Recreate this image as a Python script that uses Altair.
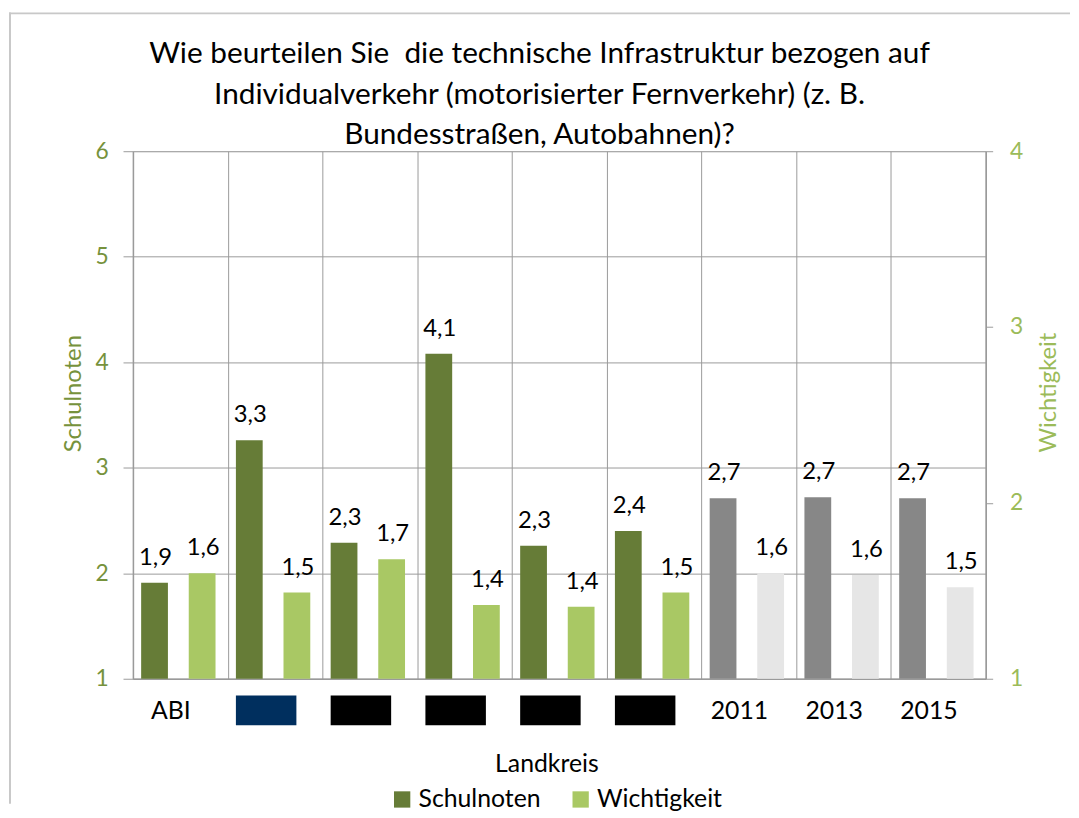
import json
import altair as alt
import pandas as pd

# ---------------- data ----------------
kategorien = ["ABI", "LK1", "LK2", "LK3", "LK4", "LK5", "2011", "2013", "2015"]
geschwaerzt = ["LK1", "LK2", "LK3", "LK4", "LK5"]   # redacted district names
jahre = ["2011", "2013", "2015"]
schulnoten = [1.91, 3.26, 2.29, 4.08, 2.26, 2.40, 2.71, 2.72, 2.71]
wichtigkeit = [1.60, 1.49, 1.68, 1.42, 1.41, 1.49, 1.60, 1.59, 1.52]
reihen = ["Schulnoten", "Wichtigkeit"]
farb_schluessel = ["Schulnoten", "Wichtigkeit", "Schulnoten (Vorjahre)", "Wichtigkeit (Vorjahre)"]
schulnoten_ticks = [1, 2, 3, 4, 5, 6]
wichtigkeit_ticks = [1, 2, 3, 4]
titel = [
    "Wie beurteilen Sie \u00a0die technische Infrastruktur bezogen auf",
    "Individualverkehr (motorisierter Fernverkehr) (z. B.",
    "Bundesstraßen, Autobahnen)?",
]

rows = []
for k, s, w in zip(kategorien, schulnoten, wichtigkeit):
    suffix = " (Vorjahre)" if k in jahre else ""
    rows.append({"Kategorie": k, "Reihe": "Schulnoten", "Wert": s, "Farbe": "Schulnoten" + suffix})
    rows.append({"Kategorie": k, "Reihe": "Wichtigkeit", "Wert": w, "Farbe": "Wichtigkeit" + suffix})
df = pd.DataFrame(rows)

# ---------------- styles ----------------
FONT = "Lato"
DARK = "#667C37"
LIGHT = "#A9C864"
GREY = "#878787"
LGREY = "#E6E6E6"
AXIS_GREY = "#9A9A9A"
LEFT_COL = "#76923C"
RIGHT_COL = "#9BBB59"

hide_expr = "indexof(%s, datum.label) >= 0 ? '' : datum.label" % json.dumps(geschwaerzt).replace('"', "'")

x_enc = alt.X(
    "Kategorie:N",
    sort=kategorien,
    scale=alt.Scale(paddingInner=0, paddingOuter=0),
    axis=alt.Axis(
        title="Landkreis",
        labelExpr=hide_expr,
        tickBand="extent",
        grid=True,
        gridColor=AXIS_GREY,
        ticks=False,
        domainColor=AXIS_GREY,
        domainWidth=1.5,
        labelAngle=0,
        labelFont=FONT,
        labelFontSize=25,
        labelColor="black",
        labelOffset=-10,
        labelPadding=20,
        titleFont=FONT,
        titleFontSize=25,
        titleFontWeight="normal",
        titleColor="black",
        titleX=417,
        titleY=94,
        titleAlign="center",
        titleBaseline="alphabetic",
    ),
)

color_enc = alt.Color(
    "Farbe:N",
    scale=alt.Scale(domain=farb_schluessel, range=[DARK, LIGHT, GREY, LGREY]),
    legend=alt.Legend(
        values=reihen,
        title=None,
        orient="none",
        legendX=259,
        legendY=641,
        direction="horizontal",
        symbolType="square",
        symbolSize=270,
        symbolStrokeWidth=0,
        labelFont=FONT,
        labelFontSize=25,
        labelColor="black",
        labelOffset=4,
        columnPadding=27,
    ),
)

y_left = alt.Y(
    "Wert:Q",
    scale=alt.Scale(domain=[1, 6], nice=False, zero=False),
    axis=alt.Axis(
        orient="left",
        values=schulnoten_ticks,
        title="Schulnoten",
        grid=True,
        gridColor=AXIS_GREY,
        tickSize=10,
        tickColor=AXIS_GREY,
        domainColor=AXIS_GREY,
        domainWidth=1.5,
        labelPadding=15,
        labelFont=FONT,
        labelFontSize=23,
        labelColor=LEFT_COL,
        titleFont=FONT,
        titleFontSize=24,
        titleFontWeight="normal",
        titleColor=LEFT_COL,
        titleAngle=270,
        titleX=-53,
        titleY=244,
        titleAlign="center",
        titleBaseline="alphabetic",
    ),
)

y_right = alt.Y(
    "Wert:Q",
    scale=alt.Scale(domain=[1, 4], nice=False, zero=False),
    axis=alt.Axis(
        orient="right",
        values=wichtigkeit_ticks,
        title="Wichtigkeit",
        grid=False,
        tickSize=7,
        tickColor=AXIS_GREY,
        domainColor=AXIS_GREY,
        domainWidth=1.5,
        labelPadding=17,
        labelFont=FONT,
        labelFontSize=23,
        labelColor=RIGHT_COL,
        titleFont=FONT,
        titleFontSize=24,
        titleFontWeight="normal",
        titleColor=RIGHT_COL,
        titleAngle=270,
        titleX=70,
        titleY=243,
        titleAlign="center",
        titleBaseline="alphabetic",
    ),
)

base = alt.Chart(df).transform_calculate(
    Beschriftung="replace(format(datum.Wert, '.1f'), '.', ',')"
)

bars_s = base.transform_filter(alt.datum.Reihe == "Schulnoten").mark_bar(width=27, xOffset=-26).encode(
    x=x_enc, y=y_left, y2=alt.datum(1), color=color_enc
)
text_s = base.transform_filter(alt.datum.Reihe == "Schulnoten").mark_text(
    xOffset=-25, dy=-18, baseline="alphabetic", font=FONT, fontSize=24, color="black"
).encode(x=x_enc, y=y_left, text="Beschriftung:N")

bars_w = base.transform_filter(alt.datum.Reihe == "Wichtigkeit").mark_bar(width=27, xOffset=22).encode(
    x=x_enc, y=y_right, y2=alt.datum(1), color=color_enc
)
text_w = base.transform_filter(alt.datum.Reihe == "Wichtigkeit").mark_text(
    xOffset=23, dy=-18, baseline="alphabetic", font=FONT, fontSize=24, color="black"
).encode(x=x_enc, y=y_right, text="Beschriftung:N")

# redaction boxes in place of the district names
boxes = alt.Chart(pd.DataFrame({"Kategorie": geschwaerzt})).mark_bar(width=61, xOffset=-9).encode(
    x=x_enc,
    y=alt.value(549),
    y2=alt.value(579),
    color=alt.condition(alt.datum.Kategorie == geschwaerzt[0], alt.value("#002F5E"), alt.value("#000000")),
)

# light outer frame (top and left edge)
frame_data = alt.Data(values=[{"f": 1}])
frame_top = alt.Chart(frame_data).mark_rule(color="#C8C8C8", strokeWidth=2).encode(
    x=alt.value(-125), x2=alt.value(945), y=alt.value(-139)
)
frame_left = alt.Chart(frame_data).mark_rule(color="#C8C8C8", strokeWidth=2).encode(
    x=alt.value(-124), y=alt.value(-140), y2=alt.value(658)
)

left = alt.layer(frame_top, frame_left, boxes, bars_s, text_s)
right = alt.layer(bars_w, text_w)

chart = (
    alt.layer(left, right)
    .resolve_scale(y="independent")
    .properties(
        width=860,
        height=532,
        padding=0,
        title=alt.TitleParams(
            text=titel,
            anchor="middle",
            frame="group",
            dx=-20,
            offset=-164,
            font=FONT,
            fontSize=30,
            fontWeight="normal",
            color="black",
            lineHeight=41,
            baseline="alphabetic",
        ),
    )
    .configure_view(strokeWidth=0)
    .configure(font=FONT, background="white")
)

chart.save("out.html", embed_options={"renderer": "svg", "actions": False})
